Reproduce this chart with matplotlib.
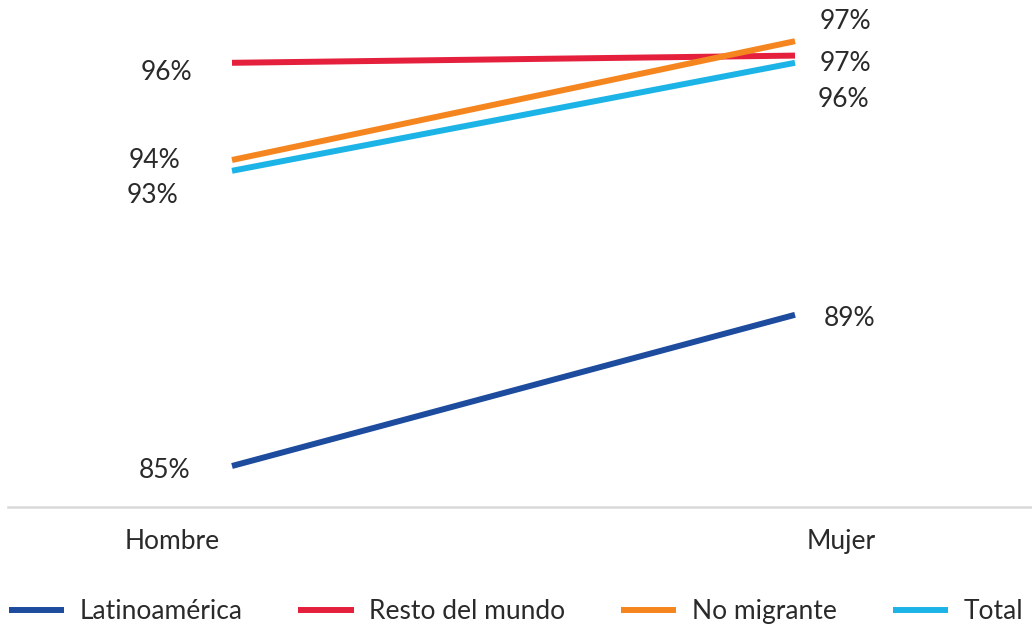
import matplotlib.pyplot as plt

plt.rcParams['font.family'] = ['Lato', 'DejaVu Sans']

categories = ['Hombre', 'Mujer']
latinoamerica = [85.2, 89.4]
resto_mundo = [96.4, 96.6]
no_migrante = [93.7, 97.0]
total = [93.4, 96.4]

series_names = ['Latinoamérica', 'Resto del mundo', 'No migrante', 'Total']
series_vals = [latinoamerica, resto_mundo, no_migrante, total]
colors = ['#1D4C9E', '#E5203D', '#F5861F', '#1CB4E6']
txt = '#2a2a2a'

# label offsets in px (left point, right point)
offsets = [((-42, -4), (29, -4)),
           ((-40, -10), (25, -8)),
           ((-52, 0), (25, 20)),
           ((-54, -25), (23, -37))]

fig = plt.figure(figsize=(10.32, 6.28), dpi=100)
ax = fig.add_axes([8 / 1032, (628 - 507) / 628, 1 - 8 / 1032, (507 - 10) / 628])

px_x = 795 - 232
ax.set_xlim(-(232 - 8) / px_x, 1 + (1032 - 795) / px_x)
ax.set_ylim(85.2 - 41 / 36, 85.2 + (466 - 10) / 36)

xs = [0, 1]
for name, vals, c, off in zip(series_names, series_vals, colors, offsets):
    ax.plot(xs, vals, color=c, lw=4.3, label=name, solid_capstyle='butt', clip_on=False)
    for x, v, o, ha in zip(xs, vals, off, ['right', 'left']):
        ax.annotate(f'{v:.0f}%', (x, v), xytext=o, textcoords='offset pixels',
                    ha=ha, va='center', fontsize=19, color=txt)

for s in ['top', 'right', 'left']:
    ax.spines[s].set_visible(False)
ax.spines['bottom'].set_color('#d9d9d9')
ax.spines['bottom'].set_linewidth(1.8)
ax.set_yticks([])
ax.set_xticks([-60 / px_x, 1 + 46 / px_x])
ax.set_xticklabels(categories, fontsize=19, color=txt)
ax.tick_params(axis='x', length=0, pad=16)

fig.legend(loc='lower center', ncol=4, bbox_to_anchor=(0.5, -0.032), frameon=False,
           prop={'size': 19}, handlelength=2.1, columnspacing=2.1,
           handletextpad=0.6, labelcolor=txt)

fig.savefig('out.png', dpi=100)
